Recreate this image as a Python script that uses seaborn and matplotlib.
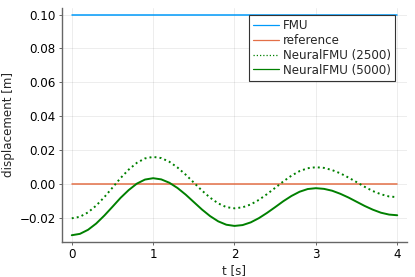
"""
NeuralFMU displacement comparison
"""

import numpy as np
import pandas as pd
import matplotlib
matplotlib.use("Agg")
import matplotlib.pyplot as plt
import seaborn as sns

# time axis, 0.1 s steps
t = [round(0.1 * i, 1) for i in range(41)]

fmu = [0.1] * 41
reference = [0.0] * 41

neural_2500 = [
    -0.0204, -0.0195, -0.0169, -0.0129, -0.0079, -0.0023, 0.0034, 0.0084, 0.0124, 0.0150,
    0.0159, 0.0152, 0.0130, 0.0096, 0.0054, 0.0007, -0.0040, -0.0082, -0.0116, -0.0138,
    -0.0145, -0.0139, -0.0122, -0.0095, -0.0061, -0.0024, 0.0014, 0.0048, 0.0075, 0.0092,
    0.0098, 0.0094, 0.0081, 0.0062, 0.0037, 0.0010, -0.0018, -0.0043, -0.0062, -0.0075,
    -0.0079,
]

neural_5000 = [
    -0.0304, -0.0296, -0.0272, -0.0235, -0.0188, -0.0136, -0.0083, -0.0037, 0.0001, 0.0025,
    0.0033, 0.0026, 0.0006, -0.0025, -0.0064, -0.0108, -0.0152, -0.0191, -0.0222, -0.0242,
    -0.0249, -0.0244, -0.0228, -0.0203, -0.0172, -0.0138, -0.0103, -0.0072, -0.0047, -0.0031,
    -0.0026, -0.0030, -0.0041, -0.0059, -0.0081, -0.0106, -0.0131, -0.0153, -0.0171, -0.0182,
    -0.0186,
]

x_ticks = [0, 1, 2, 3, 4]
y_ticks = [-0.02, 0.00, 0.02, 0.04, 0.06, 0.08, 0.10]

sns.set_theme(style="white")
plt.rcParams['font.family'] = ['DejaVu Sans']

fs = 8.6

fig, ax = plt.subplots(figsize=(4.15, 2.77), dpi=100)
fig.subplots_adjust(left=0.1494, right=0.9807, top=0.9711, bottom=0.1264)

sns.lineplot(x=t, y=fmu, ax=ax, color='#009AFA', lw=1.1, label='FMU')
sns.lineplot(x=t, y=reference, ax=ax, color='#E36F47', lw=1.1, label='reference')
sns.lineplot(x=t, y=neural_2500, ax=ax, color='#008000', lw=1.4,
             linestyle=(0, (1, 1.6)), label='NeuralFMU (2500)')
sns.lineplot(x=t, y=neural_5000, ax=ax, color='#008000', lw=1.4,
             label='NeuralFMU (5000)')

ax.set_xlim(-0.12, 4.12)
ax.set_ylim(-0.0344, 0.1039)
ax.set_xticks(x_ticks)
ax.set_xticklabels([str(v) for v in x_ticks])
ax.set_yticks(y_ticks)
ax.set_yticklabels(['\u22120.02' if v < 0 else f'{v:.2f}' for v in y_ticks])

ax.grid(True, color='#000000', alpha=0.07, lw=0.7)
for side in ['top', 'right']:
    ax.spines[side].set_visible(False)
for side in ['left', 'bottom']:
    ax.spines[side].set_color('#666666')
    ax.spines[side].set_linewidth(1.0)
ax.tick_params(axis='both', which='major', direction='out', length=2.5, width=0.7,
               color='#666666', labelsize=fs, pad=2, labelcolor='black')
ax.tick_params(axis='both', bottom=True, left=True)

ax.set_xlabel('t [s]', fontsize=fs, labelpad=2)
ax.set_ylabel('displacement [m]', fontsize=fs, labelpad=3)

leg = ax.legend(loc='upper right', bbox_to_anchor=(0.966, 0.97), fontsize=fs,
                frameon=True, fancybox=False, framealpha=1, edgecolor='#333333',
                handlelength=2.2, handletextpad=0.3, borderpad=0.35, labelspacing=0.15,
                borderaxespad=0)
leg.get_frame().set_linewidth(0.8)
for line in leg.get_lines():
    line.set_linewidth(0.9)

fig.savefig('out.png', dpi=100)
